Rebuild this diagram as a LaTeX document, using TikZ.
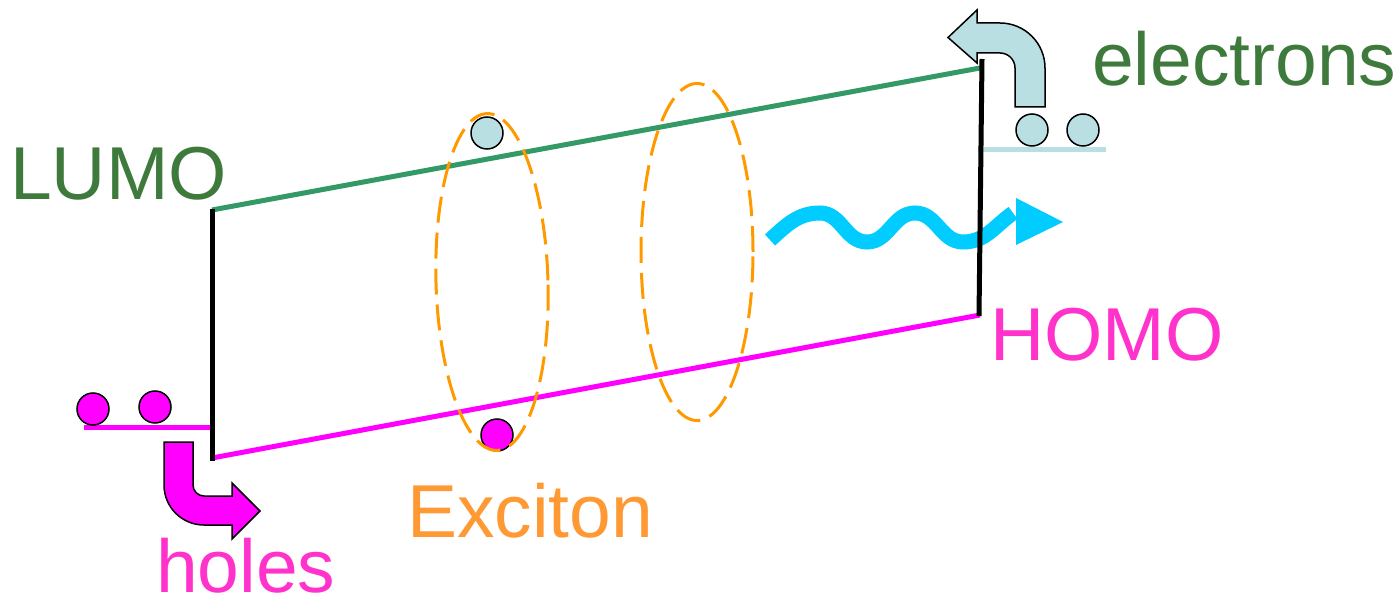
\documentclass[tikz,border=0pt]{standalone}
\usepackage{fontspec}
\setmainfont{Liberation Sans}
\usetikzlibrary{shapes.geometric}
\definecolor{txtgreen}{RGB}{63,122,61}
\definecolor{lumocol}{RGB}{51,153,102}
\definecolor{homotxt}{RGB}{255,51,204}
\definecolor{holemag}{RGB}{255,0,255}
\definecolor{exctxt}{RGB}{255,153,51}
\definecolor{excor}{RGB}{255,153,0}
\definecolor{elecblue}{RGB}{185,223,227}
\definecolor{wavecol}{RGB}{0,204,255}
\begin{document}
\begin{tikzpicture}[x=1pt,y=1pt,
  levelline/.style={line width=5pt},
  wall/.style={line width=5pt, draw=black},
  elec/.style={draw=black, line width=1.5pt, fill=elecblue, circle, minimum size=32pt, inner sep=0pt},
  hole/.style={draw=black, line width=1.5pt, fill=holemag, circle, minimum size=32pt, inner sep=0pt},
  excring/.style={draw=excor, line width=3pt, dash pattern=on 26pt off 10pt, ellipse, minimum width=112pt, minimum height=337pt, inner sep=0pt},
  lab/.style={font=\fontsize{75}{82}\selectfont, inner sep=0pt, anchor=base west},
  bent/.style={draw=black, line width=1.5pt, line join=miter},
  wavy/.style={draw=wavecol, line width=15pt, line cap=butt}
]
\useasboundingbox (0,0) rectangle (1400,598);

% coordinates
\coordinate (lumoL) at (212,388);
\coordinate (lumoR) at (980,530);
\coordinate (homoL) at (212,140);
\coordinate (homoR) at (980,283);
\coordinate (wallLt) at (212,389);
\coordinate (wallLb) at (212,137);
\coordinate (wallRt) at (982,539);
\coordinate (wallRb) at (979,282);
\coordinate (holeLvA) at (84,171);
\coordinate (holeLvB) at (213,171);
\coordinate (elLvA) at (978,448);
\coordinate (elLvB) at (1106,448);

% levels
\draw[levelline, draw=lumocol] (lumoL) -- (lumoR);
\draw[levelline, draw=holemag] (homoL) -- (homoR);
\draw[levelline, draw=holemag] (holeLvA) -- (holeLvB);
\draw[levelline, draw=elecblue] (elLvA) -- (elLvB);

% wave
\coordinate (w0) at (770,358);
\coordinate (w1) at (820,385);
\coordinate (w2) at (867,356);
\coordinate (w3) at (915,385);
\coordinate (w4) at (963,356);
\coordinate (w5) at (1013,385);
\draw[wavy] (w0) to[out=42,in=180] (w1) to[out=0,in=180] (w2) to[out=0,in=180] (w3) to[out=0,in=180] (w4) to[out=0,in=215] (w5);
\fill[wavecol] (1016,400) -- (1063,376) -- (1016,353) -- cycle;

% walls
\draw[wall] (wallLt) -- (wallLb);
\draw[wall] (wallRt) -- (wallRb);

% bent arrows
\filldraw[bent, fill=elecblue] (1015,491) -- (1045,491) -- (1045,530)
  arc[start angle=0,end angle=90,radius=45] -- (977,575) -- (977,588)
  -- (948,560.5) -- (977,535) -- (977,545) -- (1000,545)
  arc[start angle=90,end angle=0,radius=15] -- cycle;
\filldraw[bent, fill=holemag] (164,156) -- (193,156) -- (193,113)
  arc[start angle=180,end angle=270,radius=11] -- (232,102) -- (232,115)
  -- (260,87) -- (232,59) -- (232,73) -- (204,73)
  arc[start angle=270,end angle=180,radius=40] -- cycle;

% particles
\node[elec] (e1) at (487,465) {};
\node[hole] (h1) at (497,163) {};
\node[elec, minimum height=28pt] (e2) at (1032,468) {};
\node[elec, minimum height=28pt] (e3) at (1083,468) {};
\node[hole] (h2) at (93,189) {};
\node[hole] (h3) at (155,191) {};

% exciton rings
\node[excring, rotate=1.7] (ex1) at (492,316) {};
\node[excring] (ex2) at (697,346) {};

% labels
\node[lab, text=txtgreen] (lumo) at (10,398) {LUMO};
\node[lab, text=homotxt] (homo) at (990,238) {HOMO};
\node[lab, text=txtgreen] (electrons) at (1092,512) {electrons};
\node[lab, text=homotxt] (holes) at (156,6) {holes};
\node[lab, text=exctxt] (exciton) at (407,61) {Exciton};
\end{tikzpicture}
\end{document}
